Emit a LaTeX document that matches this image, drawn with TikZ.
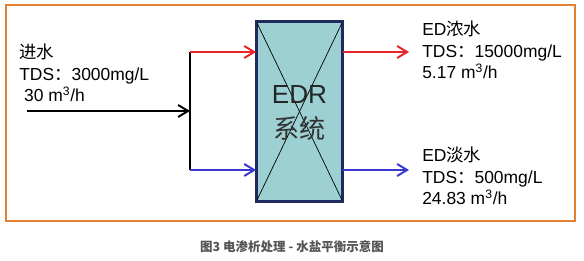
\documentclass[tikz,border=0pt]{standalone}
\usepackage{fontspec}
\setmainfont{Liberation Sans}
\newfontfamily\cjk{Noto Sans CJK SC}
\usetikzlibrary{arrows.meta, positioning, calc}

\definecolor{frameorange}{RGB}{224,128,48}
\definecolor{edred}{RGB}{232,37,43}
\definecolor{edblue}{RGB}{58,58,208}
\definecolor{edfill}{RGB}{156,208,210}
\definecolor{ednavy}{RGB}{31,42,96}
\definecolor{capgray}{RGB}{85,85,85}

\begin{document}
\begin{tikzpicture}[
    x=0.025cm, y=-0.025cm, % pixel grid of the figure
    >={Straight Barb[length=0.25cm, width=0.3cm]}, % open arrow tips
    flow/.style={->, line width=1.4pt},
    unit/.style={draw=ednavy, line width=1.2pt, fill=edfill, minimum width=2.125cm, minimum height=4.475cm, inner sep=0pt},
    info/.style={align=left, anchor=base west, inner sep=0pt, font=\fontsize{12.4}{15.6}\selectfont} % base = last line
]
\useasboundingbox (0,0) rectangle (584,261);

% Frame
\draw[frameorange, line width=1.5pt] (6,5) rectangle (575,221);

% EDR unit with crossed diagonals
\node[unit] (edr) at (299.5,111.5) {};
\draw[line width=0.5pt] (edr.north west) -- (edr.south east);
\draw[line width=0.5pt] (edr.north east) -- (edr.south west);
\draw[ednavy, line width=1.2pt] (edr.north west) rectangle (edr.south east);
\node[font=\fontsize{18.6}{20}\selectfont, text=black!85] (edrlabel) at (299.5,95) {EDR};
\node[font=\fontsize{18.6}{20}\selectfont\cjk, text=black!80] (syslabel) at (299.5,128) {系统};

% Inlet and split
\coordinate (inlet) at (27,111);
\coordinate (splitT) at (190,52);
\coordinate (splitB) at (190,170);
\draw[flow] (inlet) -- (inlet -| splitT);
\draw[line width=1.4pt] (splitT) -- (splitB);
\draw[flow, edred] (splitT) -- (splitT -| edr.west);
\draw[flow, edblue] (splitB) -- (splitB -| edr.west);

% Outlets
\coordinate (concEnd) at (409,52);
\coordinate (dilEnd) at (409,170);
\draw[flow, edred] (edr.east |- concEnd) -- (concEnd);
\draw[flow, edblue] (edr.east |- dilEnd) -- (dilEnd);

% Stream data
\node[info] (feed) at (19,102) {{\cjk 进水}\\TDS{\cjk ：}3000mg/L\\\hspace{0.12cm}30 m\textsuperscript{3}/h};
\node[info] (conc) at (422,79) {ED{\cjk 浓水}\\TDS{\cjk ：}15000mg/L\\5.17 m\textsuperscript{3}/h};
\node[info] (dil) at (422,205) {ED{\cjk 淡水}\\TDS{\cjk ：}500mg/L\\24.83 m\textsuperscript{3}/h};

% Caption
\node[font=\fontsize{8.9}{10}\selectfont\cjk\bfseries, text=capgray] (caption) at (292,247) {图3 电渗析处理 - 水盐平衡示意图};

\end{tikzpicture}
\end{document}
